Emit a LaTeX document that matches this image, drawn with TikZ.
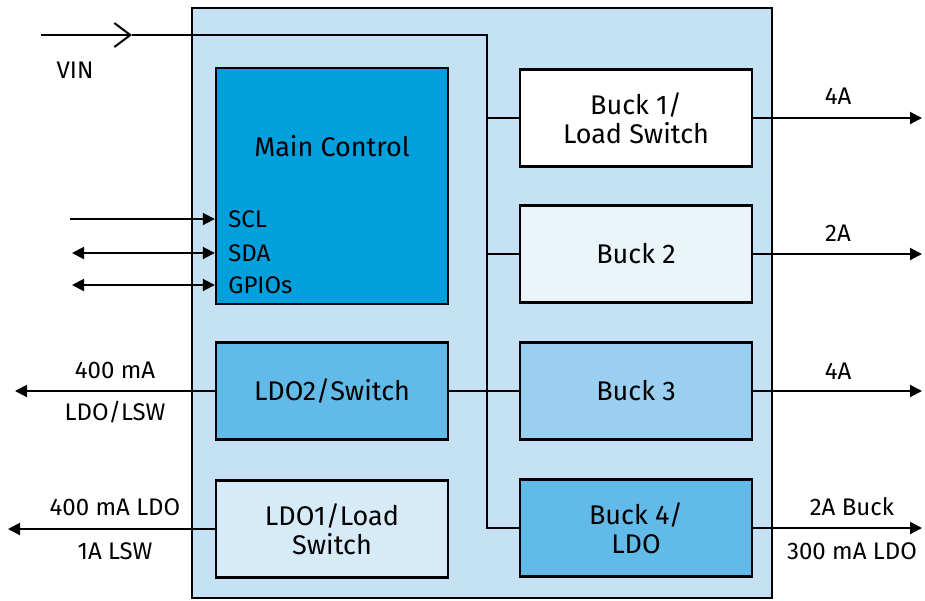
\documentclass[tikz,border=0pt]{standalone}
\usepackage{fontspec}
\setmainfont{Fira Sans}
\usetikzlibrary{arrows.meta}

\definecolor{outerblue}{RGB}{197,226,245}
\definecolor{ctrlblue}{RGB}{0,160,220}
\definecolor{midblue}{RGB}{98,186,233}
\definecolor{paleblue}{RGB}{154,207,241}
\definecolor{lightblue}{RGB}{214,234,248}
\definecolor{iceblue}{RGB}{235,244,249}

\tikzset{
  blk/.style={draw=black, line width=1.2pt, minimum width=116pt, minimum height=48.5pt,
    inner sep=0pt, align=center, font=\fontsize{13.5pt}{14.5pt}\selectfont},
  wire/.style={line width=1pt},
  outarrow/.style={wire, -{Triangle[length=6pt,width=6pt]}},
  dblarrow/.style={wire, {Triangle[length=6pt,width=6pt]}-{Triangle[length=6pt,width=6pt]}},
  lbl/.style={inner sep=0pt, font=\fontsize{12pt}{13pt}\selectfont},
  pin/.style={inner sep=0pt, anchor=west, font=\fontsize{12pt}{13pt}\selectfont}
}

\begin{document}
\begin{tikzpicture}[x=0.5pt,y=-0.5pt]
\useasboundingbox (0,0) rectangle (925,600);
% chip outline
\draw [fill=outerblue, line width=1.2pt] (192,8) rectangle (772,598);
% blocks
\node [blk, fill=ctrlblue, minimum height=118pt] (main) at (332,186) {};
\node [blk, fill=white] (buck1) at (636,118) {Buck 1/\\Load Switch};
\node [blk, fill=iceblue] (buck2) at (636,254) {Buck 2};
\node [blk, fill=paleblue] (buck3) at (636,391) {Buck 3};
\node [blk, fill=midblue] (buck4) at (636,528) {Buck 4/\\LDO};
\node [blk, fill=midblue] (ldo2) at (332,391) {LDO2/Switch};
\node [blk, fill=lightblue] (ldo1) at (332,529) {LDO1/Load\\Switch};
\node [inner sep=0pt, font=\fontsize{13.5pt}{14.5pt}\selectfont] (mctext) at (332,146) {Main Control};
% pins of main control
\node [pin] (scl) at (228,219) {SCL};
\node [pin] (sda) at (228,253) {SDA};
\node [pin] (gpio) at (228,285) {GPIOs};
\coordinate (sclin) at (70,219);
\coordinate (sdain) at (72,253);
\coordinate (gpioin) at (72,285);
\draw [outarrow] (sclin) -- (scl.west -| main.west);
\draw [dblarrow] (sdain) -- (sda.west -| main.west);
\draw [dblarrow] (gpioin) -- (gpio.west -| main.west);
% input rail
\coordinate (vin) at (41,35);
\coordinate (vintip) at (132,35);
\coordinate (railtop) at (487,35);
\coordinate (railbot) at (487,528);
\draw [wire, -{Straight Barb[length=8pt,width=12pt,line width=1pt]}] (vin) -- (vintip);
\draw [wire] (vintip) -- (railtop) -- (railbot) -- (buck4.west);
\draw [wire] (railtop |- buck1.west) -- (buck1.west);
\draw [wire] (railtop |- buck2.west) -- (buck2.west);
\draw [wire] (ldo2.east) -- (buck3.west);
\node [lbl] (vinlbl) at (75,70) {VIN};
% outputs
\coordinate (o1) at (922,118);
\coordinate (o2) at (922,254);
\coordinate (o3) at (922,391);
\coordinate (o4) at (922,528);
\coordinate (o5) at (15,391);
\coordinate (o6) at (8,529);
\draw [outarrow] (buck1.east) -- (o1);
\draw [outarrow] (buck2.east) -- (o2);
\draw [outarrow] (buck3.east) -- (o3);
\draw [outarrow] (buck4.east) -- (o4);
\draw [outarrow] (ldo2.west) -- (o5);
\draw [outarrow] (ldo1.west) -- (o6);
\node [lbl] (l1) at (838,96) {4A};
\node [lbl] (l2) at (838,233) {2A};
\node [lbl] (l3) at (838,371) {4A};
\node [lbl] (l4) at (852,507) {2A Buck};
\node [lbl] (l5) at (852,551) {300 mA LDO};
\node [lbl] (l6) at (115,370) {400 mA};
\node [lbl] (l7) at (115,412) {LDO/LSW};
\node [lbl] (l8) at (115,507) {400 mA LDO};
\node [lbl] (l9) at (115,551) {1A LSW};
\end{tikzpicture}
\end{document}
